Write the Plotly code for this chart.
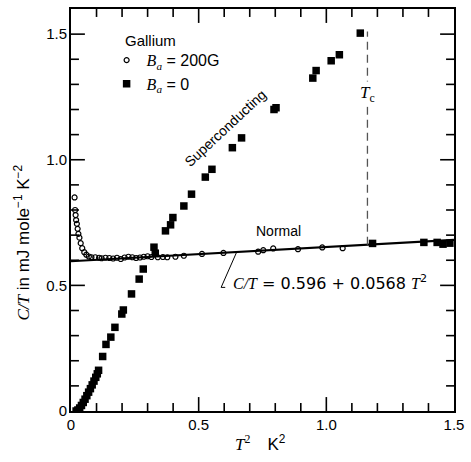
import plotly.graph_objects as go

# ---- data ----
field_x = [0.014, 0.016, 0.018, 0.020, 0.023, 0.026, 0.029, 0.033, 0.038, 0.044, 0.052, 0.060, 0.070, 0.080,
           0.095, 0.110, 0.120, 0.135, 0.150, 0.165, 0.180, 0.195, 0.210, 0.225, 0.240, 0.255, 0.270, 0.285,
           0.300, 0.315, 0.340, 0.360, 0.377, 0.409, 0.442, 0.513, 0.597, 0.733, 0.753, 0.792, 0.889, 0.984, 1.064]
field_y = [0.850, 0.800, 0.780, 0.760, 0.745, 0.725, 0.705, 0.690, 0.668, 0.648, 0.632, 0.622, 0.615, 0.612,
           0.612, 0.610, 0.608, 0.610, 0.609, 0.607, 0.610, 0.605, 0.611, 0.614, 0.612, 0.609, 0.611, 0.614,
           0.616, 0.613, 0.612, 0.613, 0.612, 0.614, 0.618, 0.625, 0.629, 0.634, 0.640, 0.647, 0.644, 0.651, 0.648]

zero_x = [0.020, 0.027, 0.034, 0.041, 0.048, 0.055, 0.062, 0.069, 0.076, 0.083, 0.090, 0.097, 0.103, 0.108,
          0.124, 0.137, 0.156, 0.172, 0.199, 0.205, 0.237, 0.267, 0.283, 0.325, 0.330,
          0.370, 0.390, 0.399, 0.442, 0.472, 0.526, 0.552, 0.632, 0.668, 0.795, 0.803,
          0.947, 0.960, 1.019, 1.051, 1.133,
          1.181, 1.382, 1.434, 1.457, 1.484]
zero_y = [0.000, 0.004, 0.012, 0.022, 0.034, 0.047, 0.061, 0.075, 0.089, 0.104, 0.119, 0.134, 0.148, 0.162,
          0.217, 0.265, 0.294, 0.333, 0.386, 0.402, 0.466, 0.525, 0.565, 0.652, 0.628,
          0.717, 0.741, 0.770, 0.816, 0.863, 0.931, 0.962, 1.048, 1.087, 1.200, 1.207,
          1.325, 1.355, 1.394, 1.418, 1.504,
          0.667, 0.671, 0.671, 0.664, 0.668]

fit_a = 0.596
fit_b = 0.0568
fit_x = [0.0, 1.5]
tc_t2 = 1.161
tc_top = 1.51

x_range = [0, 1.5]
y_range = [0, 1.6]
x_ticks = [0, 0.5, 1.0, 1.5]
x_ticktext = ["0", "0.5", "1.0", "1.5"]
y_ticks = [0, 0.5, 1.0, 1.5]
y_ticktext = ["0", "0.5", "1.0", "1.5"]
x_minor = [i / 10 for i in range(1, 15)]
y_minor = [i / 10 for i in range(1, 16)]

SANS = "Liberation Sans, Arial, sans-serif"
SERIF = "Liberation Serif, Times New Roman, serif"
DSANS = "DejaVu Sans, sans-serif"
W, H = 471, 462
M = dict(l=71, r=14, t=7, b=51)
MAJOR_LEN = 14   # px
MINOR_LEN = 8    # px

fig = go.Figure()

fit_y = [fit_a + fit_b * v for v in fit_x]
fig.add_trace(go.Scatter(x=fit_x, y=fit_y, mode="lines", line=dict(color="black", width=2.2),
                         showlegend=False, hoverinfo="skip"))

# Tc dashed line
fig.add_trace(go.Scatter(x=[tc_t2, tc_t2], y=[fit_a + fit_b * tc_t2, tc_top], mode="lines",
                         line=dict(color="#555", width=1.3, dash="8px,5px"), showlegend=False, hoverinfo="skip"))

fig.add_trace(go.Scatter(x=field_x, y=field_y, mode="markers",
                         marker=dict(symbol="circle-open", size=5, color="black", line=dict(width=1.2)),
                         name="<span style='font-family:Liberation Serif'><i>B<sub>a</sub></i></span> = 200G"))
fig.add_trace(go.Scatter(x=zero_x, y=zero_y, mode="markers",
                         marker=dict(symbol="square", size=7.5, color="black"),
                         name="<span style='font-family:Liberation Serif'><i>B<sub>a</sub></i></span> = 0"))

# leader line for the equation
lead_x0 = 0.649
fig.add_trace(go.Scatter(x=[lead_x0, 0.588, 0.604], y=[fit_a + fit_b * lead_x0, 0.492, 0.492], mode="lines",
                         line=dict(color="black", width=1), showlegend=False, hoverinfo="skip"))

# inward tick marks on all four sides (pixel lengths converted through the axis scales)
x_per_px = (x_range[1] - x_range[0]) / (W - M["l"] - M["r"])
y_per_px = (y_range[1] - y_range[0]) / (H - M["t"] - M["b"])
tx, ty = [], []
for v in sorted(set(x_ticks + x_minor)):
    if v <= x_range[0] or v >= x_range[1]:
        continue
    L = (MAJOR_LEN if v in x_ticks else MINOR_LEN) * y_per_px
    tx += [v, v, None, v, v, None]
    ty += [y_range[0], y_range[0] + L, None, y_range[1], y_range[1] - L, None]
for v in sorted(set(y_ticks + y_minor)):
    if v <= y_range[0] or v >= y_range[1]:
        continue
    L = (MAJOR_LEN if v in y_ticks else MINOR_LEN) * x_per_px
    tx += [x_range[0], x_range[0] + L, None, x_range[1], x_range[1] - L, None]
    ty += [v, v, None, v, v, None]
fig.add_trace(go.Scatter(x=tx, y=ty, mode="lines", line=dict(color="black", width=1.6),
                         showlegend=False, hoverinfo="skip", connectgaps=False))

fig.update_layout(
    xaxis=dict(range=x_range, tickmode="array", tickvals=x_ticks, ticktext=x_ticktext,
               ticks="", showline=True, linewidth=2, linecolor="black", mirror=True,
               showgrid=False, zeroline=False, ticklabelstandoff=-1,
               tickfont=dict(family=SANS, size=15, color="black")),
    yaxis=dict(range=y_range, tickmode="array", tickvals=y_ticks, ticktext=y_ticktext,
               ticks="", showline=True, linewidth=2, linecolor="black", mirror=True,
               showgrid=False, zeroline=False, ticklabelstandoff=-1,
               tickfont=dict(family=SANS, size=15, color="black")),
)

annotations = [
    dict(x=0.495, y=-0.08, xref="paper", yref="paper", showarrow=False, yanchor="middle",
         text="<i>T</i><sup>2</sup>&nbsp;&nbsp;&nbsp;&nbsp;<span style='font-family:Liberation Sans'>K<sup>2</sup></span>",
         font=dict(family=SERIF, size=17, color="black")),
    dict(x=-0.127, y=(410.7 - 241) / 404, xref="paper", yref="paper", showarrow=False, textangle=-90,
         xanchor="center", yanchor="middle",
         text="<span style='font-family:Liberation Serif'><i>C/T</i></span> in mJ mole<sup>−1</sup> K<sup>−2</sup>",
         font=dict(family=SANS, size=17, color="black")),
    dict(x=0.628, y=0.511, xref="x", yref="y", showarrow=False, xanchor="left",
         text="<span style='font-family:Liberation Serif'><i>C/T</i></span> = 0.596 + 0.0568 "
              "<span style='font-family:Liberation Serif'><i>T</i></span><sup>2</sup>",
         font=dict(family=DSANS, size=16, color="black")),
    dict(x=0.811, y=0.717, xref="x", yref="y", showarrow=False,
         text="Normal", font=dict(family=SANS, size=14, color="black")),
    dict(x=0.605, y=1.125, xref="x", yref="y", showarrow=False, textangle=-43,
         text="Superconducting", font=dict(family=SANS, size=14, color="black")),
    dict(x=tc_t2, y=1.26, xref="x", yref="y", showarrow=False, bgcolor="white",
         text="<i>T</i><sub>c</sub>", font=dict(family=SERIF, size=17, color="black")),
    dict(x=(123 - 71) / 386, y=(410.7 - 38) / 404, xref="paper", yref="paper", showarrow=False,
         xanchor="left", yanchor="middle",
         text="Gallium", font=dict(family=SANS, size=15, color="black")),
]

fig.update_layout(
    width=W, height=H,
    margin=M,
    paper_bgcolor="white", plot_bgcolor="white",
    annotations=annotations,
    legend=dict(x=0.093, y=0.915, xanchor="left", yanchor="top",
                font=dict(family=SANS, size=16, color="black"),
                bgcolor="rgba(0,0,0,0)", itemwidth=30, tracegroupgap=0),
)

fig.write_html("out.html", config={"displayModeBar": False},
               post_script="document.body.style.margin='0';")
